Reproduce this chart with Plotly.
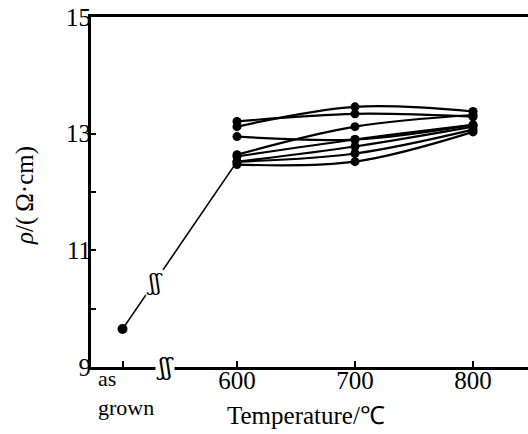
import numpy as np
import plotly.graph_objects as go

# Annealing temperatures (°C) and the numeric slot used for the as-grown state
temps = [600, 700, 800]
as_grown_x = 503
break_x = 539
line_break_x = 530

# Resistivity (Ω·cm) of the as-grown sample and its value after the first 600 °C anneal
as_grown_rho = 9.65
first_anneal_rho = 12.52

# Resistivity after successive anneals at 600 / 700 / 800 °C
cycle_a = [13.21, 13.34, 13.29]
cycle_b = [13.12, 13.46, 13.38]
cycle_c = [12.95, 12.90, 13.15]
cycle_d = [12.64, 13.12, 13.32]
cycle_e = [12.52, 12.78, 13.12]
cycle_f = [12.52, 12.66, 13.07]
cycle_g = [12.47, 12.52, 13.03]
cycle_h = [12.61, 12.90, 13.15]
cycles = [cycle_a, cycle_b, cycle_c, cycle_d, cycle_e, cycle_f, cycle_g, cycle_h]

# Axis ticks (the as-grown label is written as a left-aligned two-line note)
x_tickvals = [as_grown_x, 600, 700, 800]
x_ticktext = ["", "600", "700", "800"]
as_grown_label = "as<br>grown"
y_tickvals = [9, 10, 11, 12, 13, 15]
y_ticktext = ["9", "", "11", "", "13", "15"]

x_title = "Temperature/℃"
y_title = "<i>ρ</i>/(\u2009Ω·cm)"

FONT = "Liberation Serif"
INK = "black"

fig = go.Figure()

# as-grown -> first 600 °C anneal
fig.add_trace(go.Scatter(
    x=[as_grown_x, 600], y=[as_grown_rho, first_anneal_rho],
    mode="lines",
    line=dict(color=INK, width=1.6),
    showlegend=False, hoverinfo="skip",
))
fig.add_trace(go.Scatter(
    x=[as_grown_x], y=[as_grown_rho],
    mode="markers",
    marker=dict(color=INK, size=10, line=dict(width=0)),
    showlegend=False,
))

for rho in cycles:
    fig.add_trace(go.Scatter(
        x=temps, y=rho,
        mode="lines+markers",
        line=dict(color=INK, width=2.2, shape="spline", smoothing=1.0),
        marker=dict(color=INK, size=9, line=dict(width=0)),
        showlegend=False,
    ))

# "as / grown" label under its tick
fig.add_annotation(x=as_grown_x, xref="x", y=0, yref="paper",
                   text=as_grown_label, showarrow=False, align="left",
                   xanchor="left", yanchor="top", xshift=-27, yshift=3,
                   font=dict(family=FONT, size=22, color=INK))

# axis titles
fig.add_annotation(x=0.5, xref="paper", y=0, yref="paper",
                   text=x_title, showarrow=False,
                   xanchor="center", yanchor="top", xshift=-4, yshift=-33,
                   font=dict(family=FONT, size=25, color=INK))
fig.add_annotation(x=0, xref="paper", y=0.5, yref="paper",
                   text=y_title, showarrow=False, textangle=-90,
                   xanchor="center", yanchor="middle", xshift=-66, yshift=-4,
                   font=dict(family=FONT, size=25, color=INK))

# break marks: on the x axis and on the connecting line
line_break_y = float(np.interp(line_break_x, [as_grown_x, 600], [as_grown_rho, first_anneal_rho]))
fig.add_annotation(x=break_x, y=9, text="ʃʃ", showarrow=False,
                   font=dict(family="DejaVu Serif", size=24, color=INK),
                   bgcolor="white", borderpad=0)
fig.add_annotation(x=line_break_x, y=line_break_y, text="ʃʃ", showarrow=False,
                   font=dict(family="DejaVu Serif", size=22, color=INK),
                   bgcolor="white", borderpad=0)

fig.update_layout(
    width=528, height=434,
    margin=dict(l=91, r=0, t=17, b=67),
    paper_bgcolor="white", plot_bgcolor="white",
    font=dict(family=FONT, color=INK),
    showlegend=False,
)

fig.update_xaxes(
    range=[476.3, 846.6],
    tickvals=x_tickvals, ticktext=x_ticktext,
    ticks="inside", ticklen=6, tickwidth=1.5, tickcolor=INK,
    showline=True, linewidth=3, linecolor=INK, mirror=True,
    showgrid=False, zeroline=False, automargin=False,
    tickfont=dict(family=FONT, size=25, color=INK),
    ticklabelstandoff=-11,
)
fig.update_yaxes(
    range=[9, 15],
    tickvals=y_tickvals, ticktext=y_ticktext,
    ticks="inside", ticklen=5, tickwidth=1.5, tickcolor=INK,
    showline=True, linewidth=3, linecolor=INK, mirror=False,
    showgrid=False, zeroline=False, automargin=False,
    tickfont=dict(family=FONT, size=25, color=INK),
    ticklabelstandoff=-8,
)

fig.write_html("out.html")
